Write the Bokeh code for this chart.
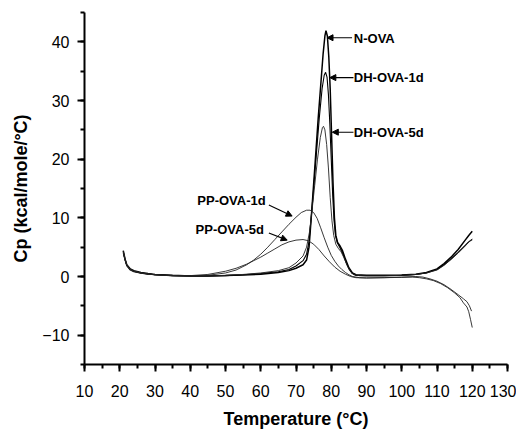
from bokeh.plotting import figure
from bokeh.models import Range1d, SingleIntervalTicker, Arrow, NormalHead, Label
from bokeh.embed import file_html
from bokeh.resources import INLINE

# ---- data ----
n_ova_t = [21.0, 21.5, 22.0, 23.0, 24.0, 26.0, 28.0, 30.0, 35.0, 40.0, 45.0, 50.0, 55.0, 60.0, 65.0, 68.0, 70.0,
           72.0, 73.0, 73.7, 74.2, 74.8, 75.5, 76.3, 77.0, 77.7, 78.2, 78.5, 78.9, 79.3, 79.7, 80.1, 80.5, 80.9,
           81.3, 81.8, 82.5, 83.2, 84.0, 85.0, 86.0, 87.0, 90.0, 95.0, 100.0, 104.0, 107.0, 110.0, 112.0, 114.0,
           116.0, 118.0, 119.0, 120.0]
n_ova_cp = [4.4, 3.0, 2.0, 1.3, 1.0, 0.7, 0.5, 0.35, 0.2, 0.1, 0.1, 0.15, 0.25, 0.4, 0.7, 1.0, 1.4,
            2.0, 2.8, 5.0, 9.0, 14.0, 20.0, 27.0, 32.5, 38.0, 41.0, 41.9, 41.0, 37.5, 32.0, 24.0, 16.0, 10.0,
            7.0, 5.8, 5.2, 4.4, 3.0, 1.5, 0.6, 0.3, 0.2, 0.2, 0.25, 0.4, 0.7, 1.3, 2.2, 3.3,
            4.6, 6.2, 7.0, 7.7]

dh1_t = [21.0, 21.5, 22.0, 23.0, 24.0, 26.0, 28.0, 30.0, 35.0, 40.0, 45.0, 50.0, 55.0, 60.0, 65.0, 68.0, 70.0,
         72.0, 73.0, 73.7, 74.3, 75.0, 75.8, 76.6, 77.4, 78.0, 78.4, 78.8, 79.2, 79.6, 80.0, 80.4, 80.8, 81.2,
         81.7, 82.4, 83.2, 84.0, 85.0, 86.0, 87.0, 90.0, 95.0, 100.0, 104.0, 107.0, 110.0, 112.0, 114.0, 116.0,
         118.0, 119.0, 120.0]
dh1_cp = [4.0, 2.8, 1.8, 1.1, 0.8, 0.55, 0.4, 0.3, 0.15, 0.1, 0.1, 0.15, 0.3, 0.5, 0.8, 1.2, 1.8,
          2.7, 3.8, 6.0, 10.0, 15.0, 21.0, 27.0, 32.0, 34.3, 34.8, 34.0, 31.0, 26.0, 20.0, 14.0, 9.5, 7.0,
          5.8, 5.0, 4.0, 2.7, 1.3, 0.5, 0.2, 0.15, 0.15, 0.2, 0.35, 0.6, 1.2, 2.0, 3.0, 4.1,
          5.3, 5.9, 6.3]

dh5_t = [21.0, 21.5, 22.0, 23.0, 24.0, 26.0, 28.0, 30.0, 35.0, 40.0, 45.0, 50.0, 55.0, 60.0, 65.0, 68.0, 70.0,
         72.0, 73.0, 73.8, 74.5, 75.3, 76.1, 76.9, 77.5, 77.8, 78.2, 78.7, 79.2, 79.7, 80.2, 80.7, 81.3, 82.0,
         82.8, 83.6, 84.5, 85.5, 86.5, 88.0, 90.0, 95.0, 100.0, 104.0, 107.0, 110.0, 112.0, 114.0, 116.0,
         118.0, 119.0, 120.0]
dh5_cp = [4.2, 2.9, 1.9, 1.2, 0.9, 0.6, 0.45, 0.3, 0.15, 0.1, 0.1, 0.2, 0.35, 0.6, 1.0, 1.5, 2.3,
          3.5, 5.0, 7.5, 11.0, 15.5, 20.0, 23.7, 25.4, 25.6, 25.0, 22.5, 18.5, 13.5, 9.5, 7.0, 5.5, 4.8,
          4.2, 3.2, 1.9, 0.8, 0.3, 0.15, 0.1, 0.1, 0.2, 0.35, 0.6, 1.1, 1.9, 2.9, 4.0,
          5.2, 5.9, 6.4]

pp1_t = [21.0, 21.5, 22.0, 23.0, 24.0, 26.0, 28.0, 30.0, 35.0, 40.0, 45.0, 50.0, 53.0, 56.0, 58.0, 60.0, 62.0,
         64.0, 66.0, 68.0, 70.0, 71.5, 73.0, 74.0, 75.0, 76.0, 77.0, 78.0, 79.0, 80.0, 81.0, 82.0, 83.0, 84.0,
         85.0, 86.0, 88.0, 90.0, 95.0, 100.0, 103.0, 105.0, 107.0, 109.0, 111.0, 113.0, 115.0, 116.5, 117.5,
         118.5, 119.0, 119.5, 120.0]
pp1_cp = [4.3, 3.0, 2.0, 1.2, 0.9, 0.6, 0.4, 0.3, 0.1, 0.05, 0.2, 0.6, 1.1, 2.0, 2.8, 3.8, 5.0,
          6.3, 7.6, 8.9, 10.1, 10.9, 11.3, 11.3, 10.9, 9.9, 8.3, 6.6, 5.0, 3.6, 2.6, 1.8, 1.2, 0.7,
          0.3, 0.0, -0.2, -0.25, -0.2, -0.15, -0.1, -0.2, -0.4, -0.7, -1.2, -1.9, -2.8, -3.6, -4.5,
          -5.2, -6.0, -7.3, -8.7]

pp5_t = [21.0, 21.5, 22.0, 23.0, 24.0, 26.0, 28.0, 30.0, 35.0, 40.0, 45.0, 50.0, 53.0, 56.0, 58.0, 60.0, 62.0,
         64.0, 66.0, 68.0, 70.0, 72.0, 73.5, 75.0, 76.5, 78.0, 79.5, 81.0, 82.5, 84.0, 85.5, 87.0, 90.0, 95.0,
         100.0, 104.0, 106.0, 108.0, 110.0, 112.0, 114.0, 116.0, 117.5, 118.5, 119.2, 119.8]
pp5_cp = [4.1, 2.9, 1.9, 1.2, 0.9, 0.6, 0.45, 0.3, 0.15, 0.15, 0.35, 0.9, 1.4, 2.1, 2.7, 3.3, 4.0,
          4.7, 5.4, 5.9, 6.2, 6.3, 6.1, 5.5, 4.6, 3.5, 2.5, 1.6, 0.9, 0.4, 0.0, -0.2, -0.25, -0.2,
          -0.1, 0.0, -0.1, -0.4, -0.8, -1.4, -2.2, -3.1, -3.8, -4.3, -5.0, -5.9]

series_names = ["N-OVA", "DH-OVA-1d", "DH-OVA-5d", "PP-OVA-1d", "PP-OVA-5d"]

x_ticks_interval = 10
y_ticks_interval = 10

FONT = "Liberation Sans"

p = figure(width=516, height=432, output_backend="svg", toolbar_location=None,
           x_range=Range1d(10, 130), y_range=Range1d(-15, 45),
           min_border_left=84, min_border_right=9, min_border_top=12, min_border_bottom=68)
p.outline_line_color = None
p.grid.visible = False
p.background_fill_color = "white"
p.border_fill_color = "white"

p.line(n_ova_t, n_ova_cp, line_color="black", line_width=1.5)
p.line(dh1_t, dh1_cp, line_color="black", line_width=1.1)
p.line(dh5_t, dh5_cp, line_color="#222222", line_width=0.9)
p.line(pp1_t, pp1_cp, line_color="#222222", line_width=0.9)
p.line(pp5_t, pp5_cp, line_color="#222222", line_width=0.9)

# axes
p.xaxis.ticker = SingleIntervalTicker(interval=x_ticks_interval, num_minor_ticks=2)
p.yaxis.ticker = SingleIntervalTicker(interval=y_ticks_interval, num_minor_ticks=2)
for ax in (p.xaxis[0], p.yaxis[0]):
    ax.axis_line_width = 2
    ax.axis_line_color = "black"
    ax.major_tick_line_width = 2
    ax.minor_tick_line_width = 2
    ax.major_tick_in = 0
    ax.minor_tick_in = 0
    ax.major_tick_out = 7
    ax.minor_tick_out = 4
    ax.major_label_text_font = FONT
    ax.major_label_text_font_size = "16px"
    ax.major_label_text_color = "black"
    ax.axis_label_text_font = FONT
    ax.axis_label_text_font_size = "18px"
    ax.axis_label_text_font_style = "bold"
    ax.axis_label_text_color = "black"

p.xaxis.axis_label = "Temperature (°C)"
p.yaxis.axis_label = "Cp (kcal/mole/°C)"
p.xaxis.major_label_standoff = 13
p.xaxis.axis_label_standoff = 9
p.yaxis.major_label_standoff = 8
p.yaxis.axis_label_standoff = 8

# annotations: (label, text x, text y, arrow tail x, tail y, tip x, tip y)
ann_text_x = [86.4, 86.4, 86.4, 42.0, 41.5]
ann_text_y = [40.6, 33.9, 24.6, 12.9, 8.0]
ann_tail_x = [85.9, 86.3, 86.3, 62.3, 62.3]
ann_tail_y = [40.7, 33.9, 24.6, 12.2, 7.4]
ann_tip_x = [78.8, 79.6, 80.3, 68.9, 67.5]
ann_tip_y = [40.7, 33.9, 24.6, 10.3, 6.2]

for name, tx, ty, ax0, ay0, ax1, ay1 in zip(series_names, ann_text_x, ann_text_y,
                                            ann_tail_x, ann_tail_y, ann_tip_x, ann_tip_y):
    p.add_layout(Arrow(end=NormalHead(size=6, fill_color="black", line_color="black"),
                       x_start=ax0, y_start=ay0, x_end=ax1, y_end=ay1,
                       line_color="black", line_width=1.1))
    p.add_layout(Label(x=tx, y=ty, text=name, text_font=FONT, text_font_size="13px",
                       text_font_style="bold", text_color="black", text_baseline="middle",
                       text_align="left"))

open("out.html", "w").write(file_html(p, INLINE))
